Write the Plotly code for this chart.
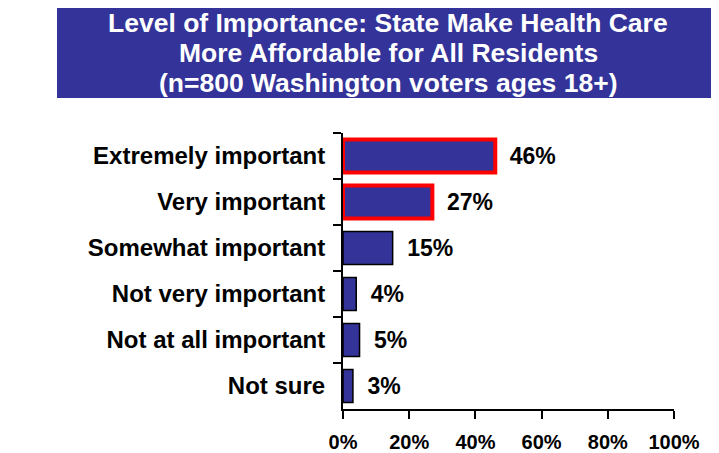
import plotly.graph_objects as go

categories = ["Extremely important", "Very important", "Somewhat important",
              "Not very important", "Not at all important", "Not sure"]
values = [46, 27, 15, 4, 5, 3]
labels = ["46%", "27%", "15%", "4%", "5%", "3%"]
outline_colors = ["#FF0000", "#FF0000", "#000000", "#000000", "#000000", "#000000"]
outline_widths = [4, 4, 1.5, 1.5, 1.5, 1.5]
tick_vals = [0, 20, 40, 60, 80, 100]
tick_text = ["0%", "20%", "40%", "60%", "80%", "100%"]
title_lines = ["Level of Importance: State Make Health Care",
               "More Affordable for All Residents",
               "(n=800 Washington voters ages 18+)"]

FONT = "Liberation Sans, Arial, sans-serif"

# figure is drawn inside the page body (8px default margin), so work in figure px
W, H = 711, 445
L, R, T, B = 335, 45, 125, 44
PW, PH = W - L - R, H - T - B


def px_x(x):
    return (x - L) / PW


def px_y(y):
    return (H - B - y) / PH


fig = go.Figure()
fig.add_trace(go.Bar(
    x=values, y=categories, orientation="h",
    marker=dict(color="#333399", line=dict(color=outline_colors, width=outline_widths)),
    width=0.72,
    text=labels, texttemplate="\u2002%{text}", textposition="outside", cliponaxis=False,
    textfont=dict(family=FONT, size=23, color="#000000", weight="bold"),
))

fig.add_shape(type="rect", xref="paper", yref="paper",
              x0=px_x(49), x1=px_x(710), y0=px_y(90), y1=px_y(-2),
              fillcolor="#333399", line=dict(width=0), layer="below")
for i, line in enumerate(title_lines):
    fig.add_annotation(xref="paper", yref="paper", x=px_x(380), y=px_y(15 + 30 * i),
                       xanchor="center", yanchor="middle",
                       text=line, showarrow=False, align="center",
                       font=dict(family=FONT, size=26.5, color="#FFFFFF", weight="bold"))

fig.update_layout(
    width=W, height=H,
    margin=dict(l=L, r=R, t=T, b=B, autoexpand=False),
    paper_bgcolor="#FFFFFF", plot_bgcolor="#FFFFFF",
    showlegend=False,
    font=dict(family=FONT, size=18, color="#000000"),
    xaxis=dict(range=[0, 100], tickvals=tick_vals, ticktext=tick_text,
               showgrid=False, zeroline=False, showline=True, linecolor="#000000",
               linewidth=2, ticks="outside", ticklen=8, tickwidth=2, tickcolor="#000000",
               ticklabelstandoff=6, automargin=False,
               tickfont=dict(family=FONT, size=20, color="#000000", weight="bold")),
    yaxis=dict(autorange="reversed", type="category", showgrid=False, zeroline=False,
               showline=True, linecolor="#000000", linewidth=2, automargin=False,
               ticks="outside", tickson="boundaries", ticklen=8, tickwidth=2,
               tickcolor="#000000", ticklabelstandoff=11,
               tickfont=dict(family=FONT, size=24, color="#000000", weight="bold")),
)

fig.write_html("out.html")
